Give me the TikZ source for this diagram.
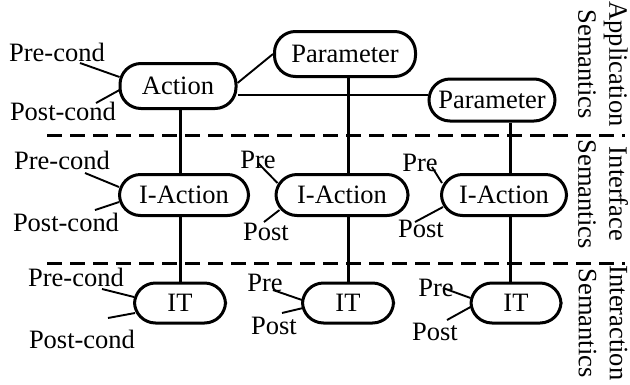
\documentclass[tikz,border=0pt]{standalone}
\usepackage{fontspec}
\setmainfont{Liberation Serif}

\begin{document}
\begin{tikzpicture}[x=1pt, y=-1pt,
        every node/.style={font=\fontsize{26.5}{35}\selectfont},
        block/.style={draw, line width=3pt, rounded corners=21pt, inner sep=0pt},
        cond/.style={inner sep=0pt},
        tick/.style={line width=1.9pt},
        link/.style={line width=3pt},
        layer/.style={line width=3pt, dash pattern=on 15pt off 8pt},
        side/.style={rotate=-90, align=center, inner sep=0pt, font=\fontsize{26.5}{31}\selectfont}]
        \useasboundingbox (0,0) rectangle (630,384);

        % layer separators
        \draw[layer] (47,135) -- (625,135);
        \draw[layer] (47,263) -- (625,263);

        \node[block, minimum width=116pt, minimum height=45pt] (act) at (178,86) {Action};
        \node[block, minimum width=141pt, minimum height=45pt] (par1) at (345,54) {Parameter};
        \node[block, minimum width=126pt, minimum height=42pt] (par2) at (492,100) {Parameter};
        \node[block, minimum width=129pt, minimum height=41pt] (ia1) at (184,195) {I-Action};
        \node[block, minimum width=132pt, minimum height=41pt] (ia2) at (342,195) {I-Action};
        \node[block, minimum width=125pt, minimum height=41pt] (ia3) at (504,195) {I-Action};
        \node[block, minimum width=91pt, minimum height=40pt] (it1) at (180,303) {IT};
        \node[block, minimum width=91pt, minimum height=40pt] (it2) at (348,303) {IT};
        \node[block, minimum width=90pt, minimum height=40pt] (it3) at (516,303) {IT};

        \node[cond] (actpre) at (57,52) {Pre-cond};
        \node[cond] (actpost) at (63,111) {Post-cond};
        \node[cond] (ia1pre) at (62,160) {Pre-cond};
        \node[cond] (ia1post) at (66,222) {Post-cond};
        \node[cond] (ia2pre) at (258,160) {Pre};
        \node[cond] (ia2post) at (266,232) {Post};
        \node[cond] (ia3pre) at (420,163) {Pre};
        \node[cond] (ia3post) at (421,229) {Post};
        \node[cond] (it1pre) at (76,277) {Pre-cond};
        \node[cond] (it1post) at (82,339) {Post-cond};
        \node[cond] (it2pre) at (265,283) {Pre};
        \node[cond] (it2post) at (274,326) {Post};
        \node[cond] (it3pre) at (436,288) {Pre};
        \node[cond] (it3post) at (435,332) {Post};

        \draw[tick] ([shift={(23,11)}]actpre.center) -- ([shift={(1,-9)}]act.west);
        \draw[tick] ([shift={(33,-8)}]actpost.center) -- ([shift={(1,4)}]act.west);
        \draw[tick] ([shift={(23,13)}]ia1pre.center) -- ([shift={(1,-8)}]ia1.west);
        \draw[tick] ([shift={(29,-12)}]ia1post.center) -- ([shift={(1,7)}]ia1.west);
        \draw[tick] ([shift={(0,3)}]ia2pre.center) -- ([shift={(3,-12)}]ia2.west);
        \draw[tick] ([shift={(-2,-10)}]ia2post.center) -- ([shift={(5,15)}]ia2.west);
        \draw[tick] ([shift={(12,4)}]ia3pre.center) -- ([shift={(2,-12)}]ia3.west);
        \draw[tick] ([shift={(-6,-7)}]ia3post.center) -- ([shift={(3,12)}]ia3.west);
        \draw[tick] ([shift={(26,12)}]it1pre.center) -- ([shift={(1,-6)}]it1.west);
        \draw[tick] ([shift={(26,-21)}]it1post.center) -- ([shift={(2,10)}]it1.west);
        \draw[tick] ([shift={(8,7)}]it2pre.center) -- ([shift={(1,-3)}]it2.west);
        \draw[tick] ([shift={(8,-13)}]it2post.center) -- ([shift={(2,5)}]it2.west);
        \draw[tick] ([shift={(7,0)}]it3pre.center) -- ([shift={(1,-5)}]it3.west);
        \draw[tick] ([shift={(12,-12)}]it3post.center) -- ([shift={(1,4)}]it3.west);

        % parameters of the action
        \draw[tick] ([yshift=3pt]act.east) -- (par1.west);
        \draw[line width=1.3pt] ([yshift=-9pt]act.east) -- ([yshift=-9pt]act.east -| par2.west);

        % columns through the layers
        \coordinate (c1) at (180,0);
        \coordinate (c2) at (348,0);
        \coordinate (c3) at (510,0);
        \draw[link] (act.south -| c1) -- (ia1.north -| c1);
        \draw[link] (ia1.south -| c1) -- (it1.north -| c1);
        \draw[link] (par1.south -| c2) -- (ia2.north -| c2);
        \draw[link] (ia2.south -| c2) -- (it2.north -| c2);
        \draw[link] (par2.south -| c3) -- (ia3.north -| c3);
        \draw[link] (ia3.south -| c3) -- (it3.north -| c3);

        \node[side] (app) at (603,64) {Application\\Semantics};
        \node[side] (ifc) at (603,194) {Interface\\Semantics};
        \node[side] (ixn) at (603,323) {Interaction\\Semantics};
    \end{tikzpicture}
\end{document}
